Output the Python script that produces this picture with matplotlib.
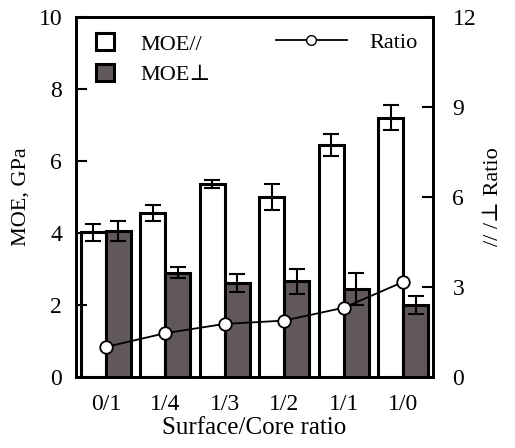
import numpy as np
import matplotlib.pyplot as plt
from matplotlib.patches import Patch
from matplotlib.lines import Line2D

plt.rcParams['font.family'] = ['Liberation Serif', 'DejaVu Serif']

# Data
groups = ['0/1', '1/4', '1/3', '1/2', '1/1', '1/0']
moe_par = [4.02, 4.55, 5.36, 5.0, 6.45, 7.2]
moe_par_err = [0.23, 0.22, 0.12, 0.35, 0.3, 0.35]
moe_perp = [4.05, 2.9, 2.62, 2.66, 2.45, 2.0]
moe_perp_err = [0.28, 0.15, 0.25, 0.35, 0.45, 0.25]
ratio = [1.0, 1.46, 1.77, 1.88, 2.31, 3.17]

x = np.arange(len(groups))
w = 0.42

fig = plt.figure(figsize=(5.15, 4.48), dpi=100)
ax = fig.add_axes([76/515, 1 - 377/448, 357/515, 360/448])
ax2 = ax.twinx()

ax.bar(x - w/2, moe_par, w, yerr=moe_par_err, color='white', edgecolor='black',
       linewidth=2.2, error_kw=dict(ecolor='black', elinewidth=1.5, capsize=6, capthick=1.5))
ax.bar(x + w/2, moe_perp, w, yerr=moe_perp_err, color='#605859', edgecolor='black',
       linewidth=2.2, error_kw=dict(ecolor='black', elinewidth=1.5, capsize=6, capthick=1.5))
ax2.plot(x, ratio, color='black', lw=1.3, marker='o', ms=9, mfc='white', mec='black', mew=1.3)

ax.set_xlim(-0.5, 5.5)
ax.set_ylim(0, 10)
ax.set_yticks([0, 2, 4, 6, 8, 10])
ax2.set_ylim(0, 12)
ax2.set_yticks([0, 3, 6, 9, 12])
ax.set_xticks(x)
ax.set_xticklabels(groups)
ax.tick_params(axis='y', direction='in', length=8, width=1.5, labelsize=17, pad=10)
ax.tick_params(axis='x', length=0, labelsize=17, pad=12)
ax2.tick_params(axis='y', direction='in', length=8, width=1.5, labelsize=17, pad=14)
for a in (ax, ax2):
    for s in a.spines.values():
        s.set_linewidth(2)

ax.set_xlabel('Surface/Core ratio', fontsize=18, labelpad=2)
ax.set_ylabel('MOE, GPa', fontsize=16, labelpad=6)
ax2.set_ylabel('// /⊥ Ratio', fontsize=16, labelpad=6)

h1 = [Patch(facecolor='white', edgecolor='black', linewidth=2.2),
      Patch(facecolor='#605859', edgecolor='black', linewidth=2.2)]
ax.legend(h1, ['MOE//', 'MOE⊥'], loc='upper left', frameon=False, fontsize=16,
          handlelength=0.8, handleheight=0.8, handletextpad=1.2,
          labelspacing=0.4, bbox_to_anchor=(0.0, 1.01))
h2 = [Line2D([], [], color='black', lw=1.3, marker='o', ms=7, mfc='white', mec='black')]
ax2.legend(h2, ['Ratio'], loc='upper right', frameon=False, fontsize=16,
           handlelength=3.2, handletextpad=1.0, borderaxespad=0.3,
           bbox_to_anchor=(1.0, 1.0))

fig.savefig('out.png', dpi=100)
